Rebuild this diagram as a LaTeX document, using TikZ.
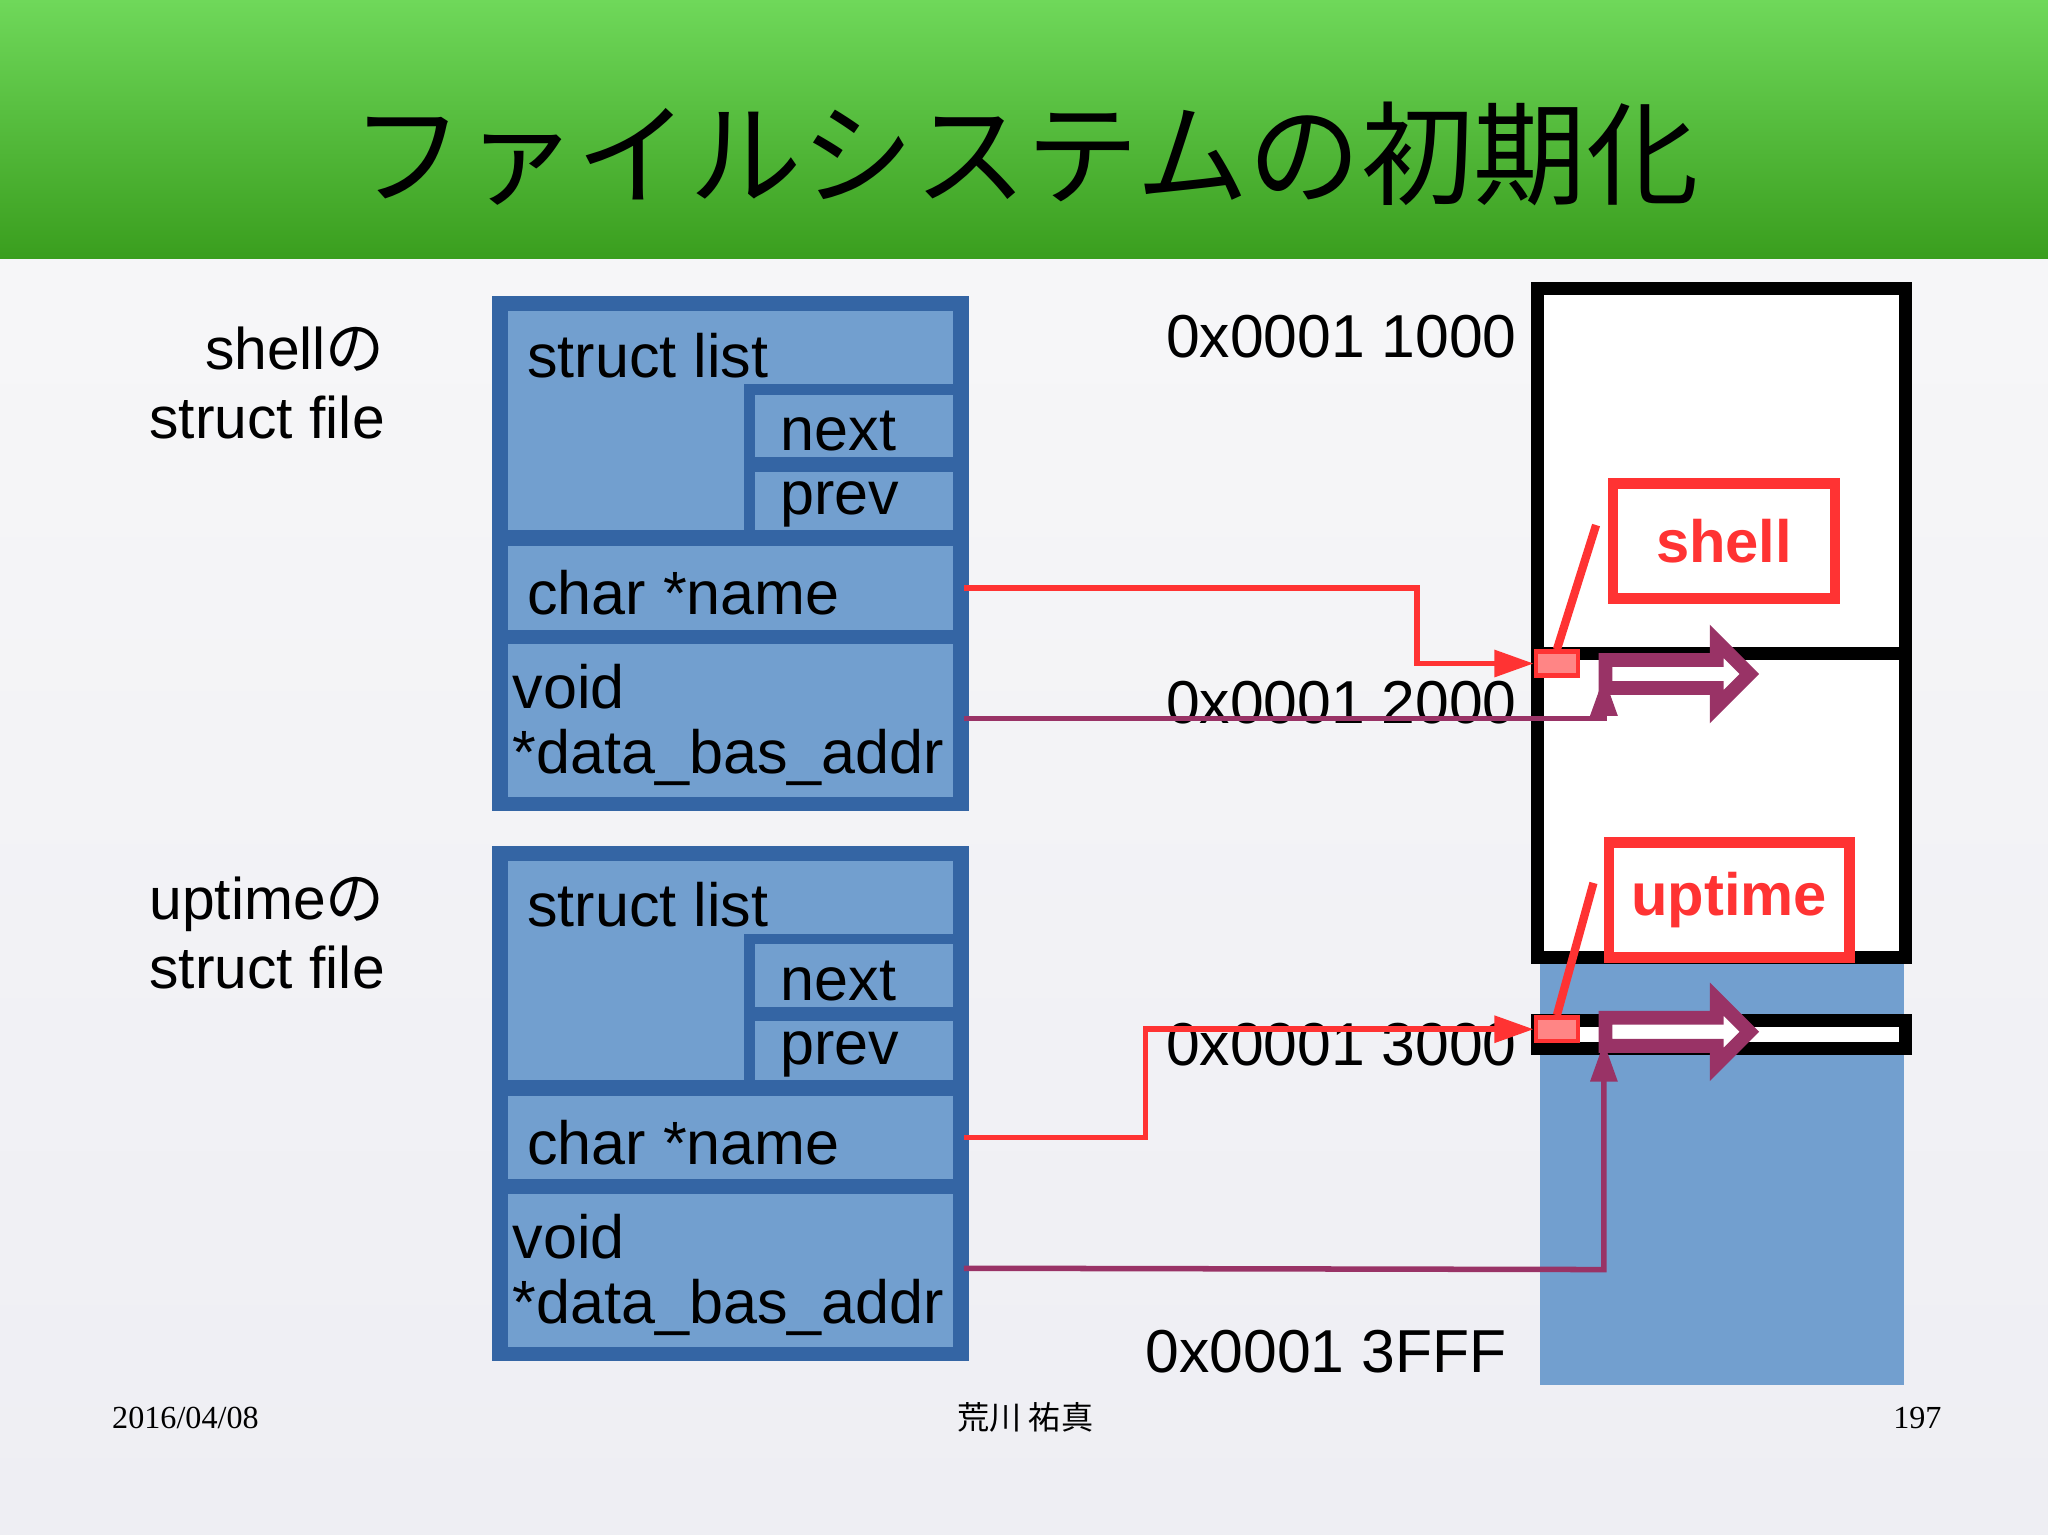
\documentclass[tikz,border=0pt]{standalone}
\usepackage{fontspec}
\setmainfont{Liberation Sans}
\newfontfamily\cjk{Noto Sans CJK JP}
\newfontfamily\ser{Liberation Serif}
\usetikzlibrary{shapes.arrows,arrows.meta}
\definecolor{bfill}{HTML}{729FCF}
\definecolor{bline}{HTML}{3465A4}
\definecolor{rd}{HTML}{FF3333}
\definecolor{pu}{HTML}{993366}
\definecolor{gtop}{HTML}{6FD85A}
\definecolor{gbot}{HTML}{3A9E1E}
\definecolor{bgtop}{HTML}{F8F8F9}
\definecolor{bgbot}{HTML}{EEEEF3}
\tikzset{
 sbox/.style={draw=bline,fill=bfill,line width=2.3pt},
 txt/.style={font=\fontsize{13.3pt}{14pt}\selectfont,anchor=west,inner sep=0},
 lab/.style={font=\fontsize{12.8pt}{15pt}\selectfont,align=right,anchor=east},
 addr/.style={font=\fontsize{13.2pt}{14pt}\selectfont,anchor=east,inner sep=0},
 rl/.style={draw=rd,line width=1.2pt},
 pl/.style={draw=pu,line width=1.2pt},
 harrow/.style={single arrow,draw=pu,fill=white,line width=3pt,minimum height=1.1cm,minimum width=0.5cm,single arrow head extend=0.07cm,inner sep=0,anchor=west},
 foot/.style={font=\ser\fontsize{7pt}{8pt}\selectfont}
}
\begin{document}
\begin{tikzpicture}[x=0.01cm,y=-0.01cm]
\useasboundingbox (0,0) rectangle (1568,1175);
\shade[top color=bgtop,bottom color=bgbot] (0,0) rectangle (1568,1175);
\shade[top color=gtop,bottom color=gbot] (0,0) rectangle (1568,198);
\node (title) at (785,118) {\cjk\fontsize{24.5pt}{27pt}\selectfont ファイルシステムの初期化};
% footer
\node[foot] (d) at (142,1086) {2016/04/08};
\node[foot] (a) at (785,1085) {\cjk 荒川 祐真};
\node[foot] (p) at (1468,1086) {197};
% labels
\node[lab] (l1) at (307,293) {shell{\cjk の}\\struct file};
\node[lab] (l2) at (307,714) {uptime{\cjk の}\\struct file};
% struct boxes
\foreach \o/\n in {0/a,421/b}{
 \begin{scope}[yshift=-\o*0.01cm]
 \draw[sbox] (381,231) rectangle (738,617);
 \draw[sbox] (385,234) rectangle (734,410);
 \draw[sbox] (574,298) rectangle (734,354);
 \draw[sbox] (574,357) rectangle (734,410);
 \draw[sbox] (385,414) rectangle (734,486);
 \draw[sbox] (385,489) rectangle (734,614);
 \node[txt] at (403,272) {struct list};
 \node[txt] at (597,330) {next};
 \node[txt] at (597,386) {prev};
 \node[txt] at (403,454) {char *name};
 \node[txt] at (392,526) {void};
 \node[txt] at (392,580) {*data\_bas\_addr};
 \coordinate (n\n) at (738,450);
 \coordinate (v\n) at (738,550);
 \end{scope}
}
% memory
\fill[bfill] (1179,733) rectangle (1458,1060);
\draw[line width=2.8pt,fill=white] (1177,221) rectangle (1459,733);
\draw[line width=2.8pt] (1177,500) -- (1459,500);
\draw[line width=2.8pt,fill=white] (1177,781) rectangle (1459,803);
\node[addr] (a1) at (1162,258) {0x0001 1000};
\node[addr] (a2) at (1162,538) {0x0001 2000};
\node[addr] (a3) at (1162,800) {0x0001 3000};
\node[addr] (a4) at (1154,1035) {0x0001 3FFF};
% name boxes
\node[draw=rd,line width=2.3pt,fill=white,minimum width=1.7cm,minimum height=0.88cm,text=rd,font=\bfseries\fontsize{13pt}{14pt}\selectfont] (sh) at (1320,414) {shell};
\node[draw=rd,line width=2.3pt,fill=white,minimum width=1.84cm,minimum height=0.88cm,text=rd,font=\bfseries\fontsize{13pt}{14pt}\selectfont] (up) at (1324,689) {uptime};
% connectors
\node[draw=rd,fill=rd!60!white,line width=1pt,minimum width=0.32cm,minimum height=0.18cm,inner sep=0] (m1) at (1192,508) {};
\node[draw=rd,fill=rd!60!white,line width=1pt,minimum width=0.32cm,minimum height=0.18cm,inner sep=0] (m2) at (1192,788) {};
\draw[rl,-{Triangle[length=0.3cm,width=0.2cm]}] (na) -- (1085,450) -- (1085,508) -- (m1.west);
\draw[rd,line width=1.8pt] (1222,402) -- (m1.north);
\draw[pl,-{Triangle[length=0.3cm,width=0.2cm]}] (va) -- (1228,550) -- (1228,518);
\node[harrow] (h1) at (1224,516) {};
\draw[rl,-{Triangle[length=0.3cm,width=0.2cm]}] (nb) -- (877,871) -- (877,788) -- (m2.west);
\draw[rd,line width=1.8pt] (1220,676) -- (m2.north);
\draw[pl,-{Triangle[length=0.3cm,width=0.2cm]}] (vb) -- (1228,972) -- (1228,798);
\node[harrow] (h2) at (1224,790) {};
\end{tikzpicture}
\end{document}
